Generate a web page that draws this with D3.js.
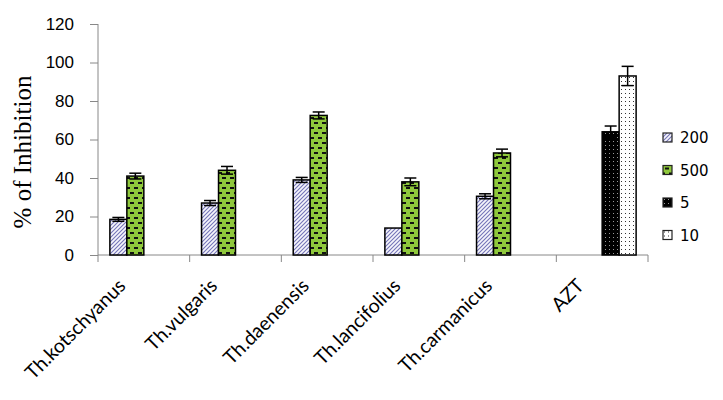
<!DOCTYPE html>
<html>
<head>
<meta charset="utf-8">
<script src="https://d3js.org/d3.v7.min.js"></script>
<style>
  body { margin: 0; background: #fff; }
  svg { display: block; }
</style>
</head>
<body>
<div class="graph"></div>
<script>
// chart data
var categories = ["Th.kotschyanus", "Th.vulgaris", "Th.daenensis", "Th.lancifolius", "Th.carmanicus", "AZT"];
var series = ["200", "500", "5", "10"];
var v200 = [18.5, 27, 39, 14, 30.5, null];
var v500 = [41, 44, 72.5, 38, 53, null];
var v5 = [null, null, null, null, null, 64];
var v10 = [null, null, null, null, null, 93];
var e200 = [1, 1.3, 1.3, 0, 1.3, null];
var e500 = [1.5, 2, 1.8, 2, 2, null];
var e5 = [null, null, null, null, null, 3];
var e10 = [null, null, null, null, null, 5];
var yTicks = [0, 20, 40, 60, 80, 100, 120];

var values = {"200": v200, "500": v500, "5": v5, "10": v10};
var errors = {"200": e200, "500": e500, "5": e5, "10": e10};

const w = 723
const h = 400
const margin = {top: 24, right: 75, bottom: 145, left: 98}

const svg = d3.select(".graph")
  .append("svg")
  .attr("width", w)
  .attr("height", h)

// fill patterns
const defs = svg.append("defs")

var p200 = defs.append("pattern").attr("id", "p200")
  .attr("patternUnits", "userSpaceOnUse").attr("width", 4).attr("height", 4)
p200.append("rect").attr("width", 4).attr("height", 4).attr("fill", "#f6f6fc")
p200.append("path").attr("d", "M-1,1 L1,-1 M0,4 L4,0 M3,5 L5,3")
  .attr("stroke", "#7474b8").attr("stroke-width", 1.1)

var p500 = defs.append("pattern").attr("id", "p500")
  .attr("patternUnits", "userSpaceOnUse").attr("width", 8).attr("height", 10)
p500.append("rect").attr("width", 8).attr("height", 10).attr("fill", "#8fc83c")
p500.append("rect").attr("x", 2).attr("y", 2).attr("width", 4).attr("height", 2).attr("fill", "#111")
p500.append("rect").attr("x", 6).attr("y", 7).attr("width", 4).attr("height", 2).attr("fill", "#111")
p500.append("rect").attr("x", -2).attr("y", 7).attr("width", 4).attr("height", 2).attr("fill", "#111")

var p5 = defs.append("pattern").attr("id", "p5")
  .attr("patternUnits", "userSpaceOnUse").attr("width", 4).attr("height", 4)
p5.append("rect").attr("width", 4).attr("height", 4).attr("fill", "#000")
p5.append("rect").attr("x", 1).attr("y", 1).attr("width", 1).attr("height", 1).attr("fill", "#999")

var p10 = defs.append("pattern").attr("id", "p10")
  .attr("patternUnits", "userSpaceOnUse").attr("width", 4).attr("height", 4)
p10.append("rect").attr("width", 4).attr("height", 4).attr("fill", "#fff")
p10.append("rect").attr("x", 1).attr("y", 1).attr("width", 1).attr("height", 1).attr("fill", "#333")

var fills = {"200": "url(#p200)", "500": "url(#p500)", "5": "url(#p5)", "10": "url(#p10)"}

// scales
const x0 = d3.scaleBand().domain(categories).range([margin.left, w - margin.right])
const x1 = d3.scaleBand().domain(series).range([0, x0.bandwidth()]).paddingOuter(0.7)
const y = d3.scaleLinear().domain([0, 120]).range([h - margin.bottom, margin.top])

// y axis
const yAxis = svg.append("g")
  .attr("transform", "translate(" + margin.left + ",0)")
  .call(d3.axisLeft(y).tickValues(yTicks).tickSize(8).tickPadding(16))
yAxis.selectAll("path, line").attr("stroke", "#888")
yAxis.select(".domain").attr("d", "M0," + y(120) + "V" + y(0))
yAxis.selectAll("text").style("font-family", "Liberation Sans").style("font-size", "17px").attr("fill", "#000")

// x axis line and category boundary ticks
svg.append("line")
  .attr("x1", margin.left).attr("x2", w - margin.right)
  .attr("y1", y(0)).attr("y2", y(0))
  .attr("stroke", "#888")
var bounds = categories.map(c => x0(c)).concat([x0(categories[categories.length - 1]) + x0.bandwidth()])
svg.selectAll(".xtick")
  .data(bounds)
  .enter()
  .append("line")
  .attr("class", "xtick")
  .attr("x1", d => d).attr("x2", d => d)
  .attr("y1", y(0)).attr("y2", y(0) + 7)
  .attr("stroke", "#888")

// x labels rotated
svg.selectAll(".xlab")
  .data(categories)
  .enter()
  .append("text")
  .attr("class", "xlab")
  .attr("transform", d => "translate(" + (x0(d) + x0.bandwidth() / 2 - 17) + "," + (y(0) + 32) + ") rotate(-45)")
  .attr("text-anchor", "end")
  .style("font-family", "Lato")
  .style("font-size", "19.5px")
  .attr("fill", "#000")
  .text(d => d)

// bars
var bars = []
categories.forEach((c, i) => {
  series.forEach(s => {
    if (values[s][i] != null) bars.push({cat: c, s: s, v: values[s][i], e: errors[s][i]})
  })
})

svg.selectAll(".bar")
  .data(bars)
  .enter()
  .append("rect")
  .attr("class", "bar")
  .attr("x", d => x0(d.cat) + x1(d.s))
  .attr("y", d => y(d.v))
  .attr("width", x1.bandwidth())
  .attr("height", d => y(0) - y(d.v))
  .attr("fill", d => fills[d.s])
  .attr("stroke", "#000")
  .attr("stroke-width", 1.5)

// error bars
var eb = svg.selectAll(".err")
  .data(bars.filter(d => d.e > 0))
  .enter()
  .append("g")
  .attr("class", "err")
  .attr("stroke", "#000")
  .attr("stroke-width", 1.5)
eb.append("line")
  .attr("x1", d => x0(d.cat) + x1(d.s) + x1.bandwidth() / 2)
  .attr("x2", d => x0(d.cat) + x1(d.s) + x1.bandwidth() / 2)
  .attr("y1", d => y(d.v + d.e)).attr("y2", d => y(d.v - d.e))
eb.append("line")
  .attr("x1", d => x0(d.cat) + x1(d.s) + x1.bandwidth() / 2 - 6)
  .attr("x2", d => x0(d.cat) + x1(d.s) + x1.bandwidth() / 2 + 6)
  .attr("y1", d => y(d.v + d.e)).attr("y2", d => y(d.v + d.e))
eb.append("line")
  .attr("x1", d => x0(d.cat) + x1(d.s) + x1.bandwidth() / 2 - 6)
  .attr("x2", d => x0(d.cat) + x1(d.s) + x1.bandwidth() / 2 + 6)
  .attr("y1", d => y(d.v - d.e)).attr("y2", d => y(d.v - d.e))

// y label
svg.append("text")
  .attr("transform", "translate(31,152) rotate(-90)")
  .attr("text-anchor", "middle")
  .style("font-family", "Liberation Serif")
  .style("font-size", "25px")
  .attr("fill", "#000")
  .text("% of Inhibition")

// legend
const legend = svg.selectAll(".leg")
  .data(series)
  .enter()
  .append("g")
  .attr("class", "leg")
  .attr("transform", (d, i) => "translate(663," + (133 + i * 32.5) + ")")
legend.append("rect")
  .attr("width", 9).attr("height", 9)
  .attr("fill", d => fills[d])
  .attr("stroke", "#222")
  .attr("stroke-width", 1.2)
legend.append("text")
  .attr("x", 17).attr("y", 10)
  .style("font-family", "DejaVu Sans")
  .style("font-size", "15px")
  .attr("fill", "#000")
  .text(d => d)
</script>
</body>
</html>
